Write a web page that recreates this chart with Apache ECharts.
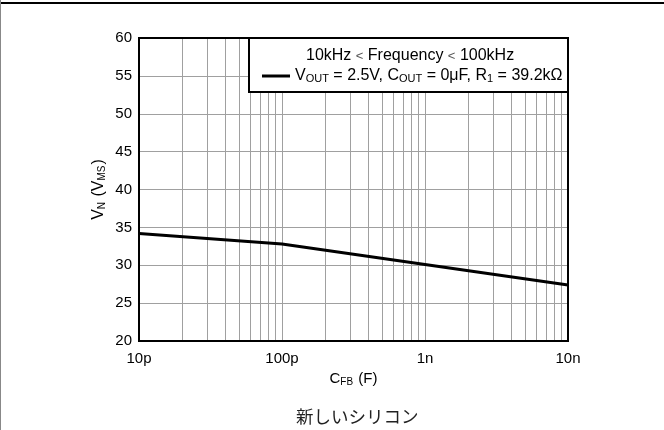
<!DOCTYPE html>
<html>
<head>
<meta charset="utf-8">
<script src="https://cdn.jsdelivr.net/npm/echarts@6/dist/echarts.min.js"></script>
<style>
  html, body { margin: 0; padding: 0; background: #fff; }
  #chart { width: 664px; height: 430px; }
</style>
</head>
<body>
<div id="chart"></div>
<script>
// 数据：反馈电容 C_FB (F) 与噪声 V_N
var capFB = [1e-11, 1e-10, 1e-9, 1e-8];
var noiseVN = [34.2, 32.8, 30.1, 27.4];
var yTicks = [20, 25, 30, 35, 40, 45, 50, 55, 60];
var xLabelValues = [1e-11, 1e-10, 1e-9, 1e-8];
var xLabelNames = ['10p', '100p', '1n', '10n'];

// 对数坐标的网格线 (1..9 每十倍频)
var xGridValues = [];
[1e-11, 1e-10, 1e-9].forEach(function (d) {
  for (var k = 1; k <= 9; k++) {
    xGridValues.push(k * d);
  }
});
xGridValues.push(1e-8);

var font = 'Liberation Sans, Arial, sans-serif';
var myChart = echarts.init(document.getElementById('chart'));

var option = {
  animation: false,
  backgroundColor: '#fff',
  textStyle: { fontFamily: font },
  title: {
    text: '新しいシリコン',
    left: 291,
    bottom: 0,
    textStyle: {
      fontFamily: 'Noto Sans CJK JP',
      fontSize: 17.5,
      fontWeight: 'normal',
      color: '#222'
    }
  },
  grid: { left: 139, right: 96, top: 38, bottom: 89, show: false },
  xAxis: {
    type: 'log',
    logBase: 10,
    min: 1e-11,
    max: 1e-8,
    name: '{a|C}{s|FB}{a| (F)}',
    nameLocation: 'middle',
    nameGap: 30,
    nameTextStyle: {
      rich: {
        a: { fontSize: 15, color: '#000', fontFamily: font },
        s: { fontSize: 10, color: '#000', fontFamily: font, padding: [6, 1, 0, 0] }
      }
    },
    axisLine: { show: true, onZero: false, lineStyle: { color: '#000', width: 2 } },
    axisTick: { show: false, customValues: xGridValues },
    axisLabel: {
      color: '#000',
      fontSize: 15,
      margin: 10,
      customValues: xLabelValues,
      formatter: function (v) {
        var e = Math.round(Math.log10(v));
        for (var i = 0; i < xLabelValues.length; i++) {
          if (Math.round(Math.log10(xLabelValues[i])) === e) return xLabelNames[i];
        }
        return '';
      }
    },
    splitLine: { show: true, lineStyle: { color: '#a0a0a0', width: 1 } }
  },
  yAxis: {
    type: 'value',
    min: 20,
    max: 60,
    interval: 5,
    name: '{a|V}{s|N}{a| (V}{s|MS}{a|)}',
    nameLocation: 'middle',
    nameGap: 32,
    nameMoveOverlap: false,
    nameTextStyle: {
      rich: {
        a: { fontSize: 16, color: '#000', fontFamily: font },
        s: { fontSize: 10, color: '#000', fontFamily: font, padding: [6, 1, 0, 0] }
      }
    },
    axisLine: { show: true, lineStyle: { color: '#000', width: 2 } },
    axisTick: { show: false },
    axisLabel: {
      color: '#000',
      fontSize: 15,
      margin: 7,
      formatter: function (v) { return yTicks.indexOf(v) >= 0 ? String(v) : ''; }
    },
    splitLine: { show: true, lineStyle: { color: '#a0a0a0', width: 1 } }
  },
  legend: {
    show: true,
    left: 257,
    top: 63,
    z: 20,
    icon: 'rect',
    itemWidth: 28,
    itemHeight: 3,
    itemGap: 8,
    selectedMode: false,
    formatter: function () {
      return '{a|V}{s|OUT}{a| = 2.5V, C}{s|OUT}{a| = 0\u03bcF, R}{s|1}{a| = 39.2k\u03a9}';
    },
    textStyle: {
      rich: {
        a: { fontSize: 16, color: '#000', fontFamily: font },
        s: { fontSize: 11, color: '#000', fontFamily: font, padding: [6, 0, 0, 0] }
      }
    }
  },
  graphic: [
    { type: 'line', shape: { x1: 0, y1: 3, x2: 664, y2: 3 }, style: { stroke: '#000', lineWidth: 2 }, z: 30 },
    { type: 'line', shape: { x1: 0.5, y1: 0, x2: 0.5, y2: 430 }, style: { stroke: '#888', lineWidth: 1 }, z: 30 },
    {
      type: 'rect', z: 15,
      shape: { x: 249, y: 38, width: 319, height: 54 },
      style: { fill: '#fff', stroke: '#000', lineWidth: 2 }
    },
    {
      type: 'text', z: 20,
      left: 306, top: 48,
      style: {
        text: '{a|10kHz }{b|<}{a| Frequency }{b|<}{a| 100kHz}',
        rich: {
          a: { font: '16px ' + font, fill: '#000' },
          b: { font: '13px ' + font, fill: '#555' }
        }
      }
    },
    // 外框
    {
      type: 'rect', z: 25,
      shape: { x: 139, y: 38, width: 429, height: 303 },
      style: { fill: 'none', stroke: '#000', lineWidth: 2 }
    }
  ],
  series: [
    {
      name: 'VN',
      type: 'line',
      data: capFB.map(function (c, i) { return [c, noiseVN[i]]; }),
      showSymbol: false,
      symbol: 'none',
      lineStyle: { color: '#000', width: 3 },
      itemStyle: { color: '#000' },
      z: 10
    }
  ]
};

myChart.setOption(option);
</script>
</body>
</html>
